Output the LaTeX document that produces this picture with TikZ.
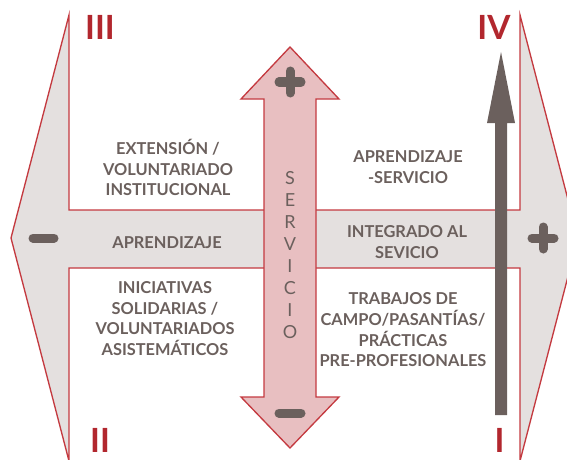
\documentclass[tikz,border=0pt]{standalone}
\usepackage{fontspec}
\setmainfont{Lato}
\usepackage{tikz}
\usetikzlibrary{positioning}

\definecolor{rojo}{HTML}{C43A40}
\definecolor{rojoosc}{HTML}{B2272E}
\definecolor{gristxt}{HTML}{6B605D}
\definecolor{grisfondo}{HTML}{E4E0DF}
\definecolor{rosa}{HTML}{E8BFC1}

\tikzset{
  flechagris/.style={draw=rojo, fill=grisfondo, line width=1pt, line join=miter},
  flecharosa/.style={draw=rojo, fill=rosa, line width=1pt, line join=miter},
  etiqueta/.style={text=gristxt, font=\bfseries\fontsize{12.3}{15.5}\selectfont, align=center, inner sep=0pt},
  numeral/.style={text=rojoosc, font=\bfseries\fontsize{25}{25}\selectfont, inner sep=0pt, anchor=base},
  signo/.style={draw=gristxt, line width=6.75pt, line cap=round},
}

\begin{document}
\begin{tikzpicture}[x=0.75pt,y=-0.75pt]
\useasboundingbox (0,0) rectangle (567,460);
\clip (0,0) rectangle (567,460);

% eje horizontal: aprendizaje
\draw[flechagris] (11,238) -- (69,15) -- (69,210) -- (520,210) -- (520,15) -- (578,238)
  -- (520,461) -- (520,268) -- (69,268) -- (69,461) -- cycle;

% eje vertical: servicio
\draw[flecharosa] (290,47) -- (339,99) -- (316,99) -- (316,397) -- (339,397) -- (290,448)
  -- (241,397) -- (264,397) -- (264,99) -- (241,99) -- cycle;

% flecha de progreso
\fill[gristxt] (501,52) -- (515,123) -- (507,123) -- (507,415) -- (495,415) -- (495,123)
  -- (487,123) -- cycle;

% signos
\draw[signo] (33,238) -- (54,238);
\draw[signo] (532,238) -- (554,238); \draw[signo] (543,227) -- (543,249);
\draw[signo] (279,82) -- (301,82); \draw[signo] (290,71) -- (290,93);
\draw[signo] (279,413) -- (301,413);

\node[text=gristxt, font=\fontsize{13.5}{16.5}\selectfont, align=center, inner sep=0pt] (serv) at (290,255)
  {S\\E\\R\\V\\I\\C\\I\\O};

% cuadrantes
\node[numeral] (q3) at (100,39.5) {III};
\node[numeral] (q4) at (494,39.5) {IV};
\node[numeral] (q2) at (100,452) {II};
\node[numeral] (q1) at (499.5,452) {I};

\node[etiqueta] (ext) at (168,167.5) {EXTENSIÓN /\\VOLUNTARIADO\\INSTITUCIONAL};
\node[etiqueta] (apr) at (167,243) {APRENDIZAJE};
\node[etiqueta] (ini) at (165,318.5) {INICIATIVAS\\SOLIDARIAS /\\VOLUNTARIADOS\\ASISTEMÁTICOS};
\node[etiqueta] (aps) at (408,167) {APRENDIZAJE\\-SERVICIO};
\node[etiqueta] (int) at (407,242) {INTEGRADO AL\\SEVICIO};
\node[etiqueta] (tra) at (403,330) {TRABAJOS DE\\CAMPO/PASANTÍAS/\\PRÁCTICAS\\PRE-PROFESIONALES};

\end{tikzpicture}
\end{document}
